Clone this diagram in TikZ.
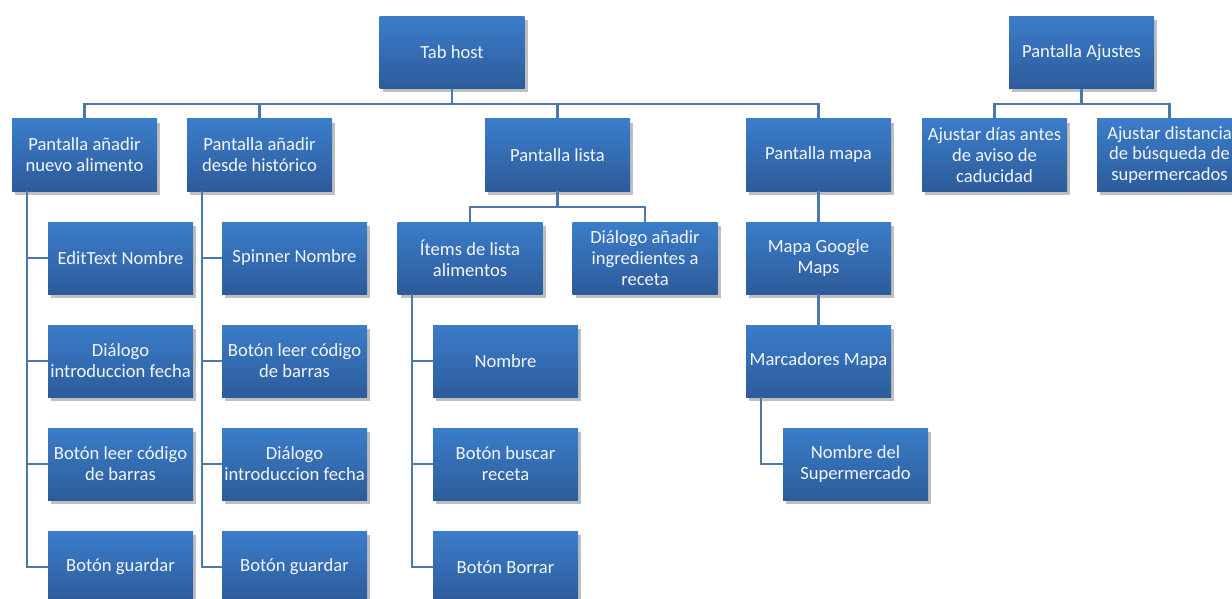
\documentclass[tikz,border=0pt]{standalone}
\usepackage{fontspec}
\setmainfont{Carlito}
\usetikzlibrary{shadows,calc}
\definecolor{boxtop}{HTML}{3B7DCA}
\definecolor{boxbot}{HTML}{2D5B9A}
\definecolor{linec}{HTML}{4C79AA}
\definecolor{txtc}{HTML}{F2F6FB}
\tikzset{
  box/.style={rectangle, minimum width=145pt, minimum height=72pt, inner sep=1pt,
    top color=boxtop, bottom color=boxbot, draw=none, text=txtc, align=center,
    font=\fontsize{18.6}{20.8}\selectfont,
    drop shadow={shadow xshift=3pt, shadow yshift=-4pt, opacity=0.25, fill=black}},
  conn/.style={draw=linec, line width=2.2pt}
}
\begin{document}
\begin{tikzpicture}[x=1pt,y=-1pt]
\fill[white] (0,0) rectangle (1232,599);
\useasboundingbox (0,0) rectangle (1232,599);
% top level
\node[box] (tab) at (452,52.5) {Tab host};
\node[box] (aj) at (1081.5,52.5) {Pantalla Ajustes};
\node[box] (p1) at (84.5,155) {Pantalla añadir\\nuevo alimento};
\node[box] (p2) at (259.5,155) {Pantalla añadir\\desde histórico};
\node[box] (p3) at (557.5,155) {Pantalla lista};
\node[box] (p4) at (818.5,155) {Pantalla mapa};
\node[box] (a1) at (994.5,155) {Ajustar días antes\\de aviso de\\caducidad};
\node[box] (a2) at (1169.5,155) {Ajustar distancia\\de búsqueda de\\supermercados};
% column 1
\node[box] (c11) at (120.5,258) {EditText Nombre};
\node[box] (c12) at (120.5,361) {Diálogo\\introduccion fecha};
\node[box] (c13) at (120.5,464) {Botón leer código\\de barras};
\node[box] (c14) at (120.5,567) {Botón guardar};
% column 2
\node[box] (c21) at (294.5,258) {Spinner Nombre};
\node[box] (c22) at (294.5,361) {Botón leer código\\de barras};
\node[box] (c23) at (294.5,464) {Diálogo\\introduccion fecha};
\node[box] (c24) at (294.5,567) {Botón guardar};
% lista
\node[box] (i1) at (470,258) {Ítems de lista\\alimentos};
\node[box] (d1) at (645,258) {Diálogo añadir\\ingredientes a\\receta};
\node[box] (i11) at (505.5,361) {Nombre};
\node[box] (i12) at (505.5,464) {Botón buscar\\receta};
\node[box] (i13) at (505.5,567) {Botón Borrar};
% mapa
\node[box] (m1) at (818.5,258) {Mapa Google\\Maps};
\node[box] (m2) at (818.5,361) {Marcadores Mapa};
\node[box] (m3) at (855.5,464) {Nombre del\\Supermercado};
% connectors
\foreach \t in {p1,p2,p3,p4} \draw[conn] (tab.south) -- ++(0,15) -| (\t.north);
\foreach \t in {a1,a2} \draw[conn] (aj.south) -- ++(0,15) -| (\t.north);
\foreach \t in {i1,d1} \draw[conn] (p3.south) -- ++(0,16) -| (\t.north);
\foreach \t in {c11,c12,c13,c14} \draw[conn] ($(p1.south west)+(15,0)$) |- (\t.west);
\foreach \t in {c21,c22,c23,c24} \draw[conn] ($(p2.south west)+(15,0)$) |- (\t.west);
\foreach \t in {i11,i12,i13} \draw[conn] ($(i1.south west)+(15,0)$) |- (\t.west);
\draw[conn] (p4.south) -- (m1.north);
\draw[conn] (m1.south) -- (m2.north);
\draw[conn] ($(m2.south west)+(15,0)$) |- (m3.west);
\end{tikzpicture}
\end{document}
